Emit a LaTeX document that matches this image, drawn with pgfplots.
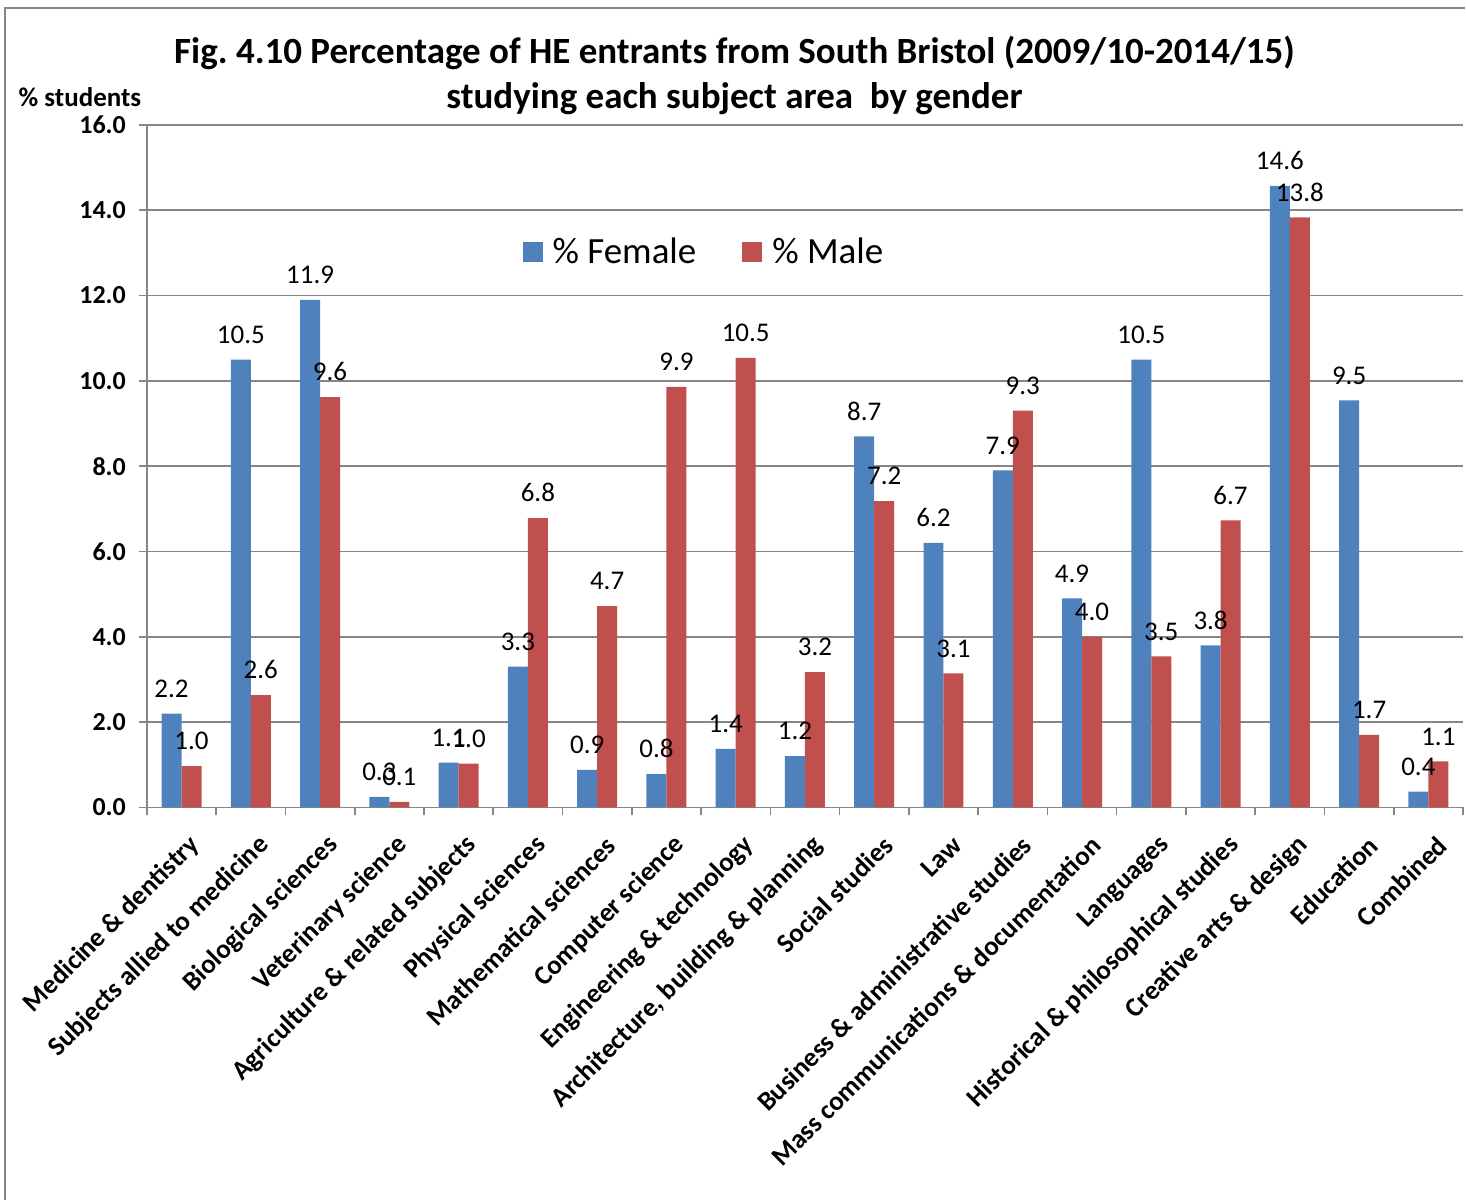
\documentclass[border=0pt]{standalone}
\usepackage{fontspec}
\setmainfont{Carlito}
\usepackage{pgfplots}
\pgfplotsset{compat=1.18}
\definecolor{fem}{HTML}{4F81BD}
\definecolor{mal}{HTML}{C0504D}
\definecolor{gridgray}{HTML}{868686}
\begin{document}
\begin{tikzpicture}
\path (0,0) rectangle (733pt,600.5pt);
\draw[gridgray, line width=1pt] (2.5pt,0pt) -- (2.5pt,596.5pt) -- (733pt,596.5pt);
\begin{axis}[
  at={(73.5pt,196.5pt)}, anchor=south west,
  scale only axis, width=658.5pt, height=341.5pt,
  ybar=0pt, bar width=10pt,
  xmin=-0.5, xmax=18.5, ymin=0, ymax=16,
  xtick={0,...,18},
  xticklabels={Medicine \& dentistry, Subjects allied to medicine, Biological sciences, Veterinary science, Agriculture \& related subjects, Physical sciences, Mathematical sciences, Computer science, Engineering \& technology, {Architecture, building \& planning}, Social studies, Law, Business \& administrative studies, Mass communications \& documentation, Languages, Historical \& philosophical studies, Creative arts \& design, Education, Combined},
  major x tick style={draw=none},
  minor xtick={-0.5,0.5,...,18.5},
  minor tick length=4pt,
  major tick length=4pt,
  ytick={0,2,...,16},
  tick align=outside,
  ymajorgrids, grid style={gridgray, line width=0.8pt},
  axis x line*=bottom, axis y line*=left,
  axis line style={gridgray, line width=0.8pt, -},
  tick style={gridgray, line width=0.8pt},
  every tick/.style={gridgray, line width=0.8pt},
  xticklabel style={rotate=45, anchor=east, font=\bfseries\fontsize{13.5}{13.5}\selectfont, inner sep=1pt, xshift=-3pt, yshift=-14pt},
  yticklabel style={font=\bfseries\fontsize{13}{13}\selectfont, xshift=-3pt, /pgf/number format/.cd, fixed, fixed zerofill, precision=1, assume math mode=true},
  nodes near coords={\pgfmathprintnumber[fixed,fixed zerofill,precision=1,assume math mode=true]{\pgfplotspointmeta}},
  every node near coord/.append style={font=\fontsize{13.5}{13.5}\selectfont, anchor=south, yshift=4.5pt, text=black},
  legend style={at={(0.424,0.814)}, anchor=center, draw=none, fill=none, font=\fontsize{18.5}{18.5}\selectfont, /tikz/every even column/.append style={column sep=21pt}, /tikz/every odd column/.append style={column sep=3pt}},
  legend columns=2,
  legend image code/.code={\fill[#1] (0pt,-5pt) rectangle (10pt,5pt);},
  clip=false,
]
\addplot[fill=fem, draw=none] coordinates {(0,2.2) (1,10.5) (2,11.9) (3,0.25) (4,1.05) (5,3.3) (6,0.88) (7,0.78) (8,1.37) (9,1.2) (10,8.7) (11,6.2) (12,7.9) (13,4.9) (14,10.5) (15,3.8) (16,14.57) (17,9.54) (18,0.37)};
\addplot[fill=mal, draw=none] coordinates {(0,0.97) (1,2.63) (2,9.62) (3,0.13) (4,1.03) (5,6.78) (6,4.72) (7,9.86) (8,10.54) (9,3.17) (10,7.18) (11,3.14) (12,9.3) (13,4.0) (14,3.54) (15,6.73) (16,13.83) (17,1.7) (18,1.08)};
\legend{\% Female, \% Male}
\end{axis}
\node[font=\bfseries\fontsize{18.5}{22.5}\selectfont, align=center] at (367.5pt,563pt) {Fig.\ 4.10 Percentage of HE entrants from South Bristol (2009/10-2014/15)\\studying each subject area\ \ by gender};
\node[font=\bfseries\fontsize{13.5}{13.5}\selectfont] at (40pt,552pt) {\% students};
\end{tikzpicture}
\end{document}
